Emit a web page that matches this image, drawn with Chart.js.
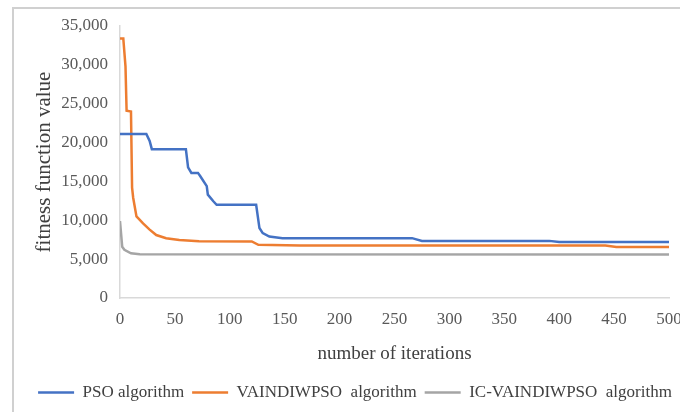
<!DOCTYPE html>
<html>
<head>
<meta charset="utf-8">
<script src="https://cdn.jsdelivr.net/npm/chart.js@4.4.0/dist/chart.umd.min.js"></script>
<style>
  html, body { margin: 0; padding: 0; background: #fff; }
  #wrap { width: 680px; height: 412px; }
</style>
</head>
<body>
<div id="wrap"><canvas id="chart" width="680" height="412"></canvas></div>
<script>
// values (iteration, fitness)
var psoIter = [0, 24, 27, 29, 60, 62, 65, 71, 73, 79, 80, 85, 88, 124, 127, 130, 136, 148, 266, 275, 391, 400, 500];
var psoVal = [21100, 21100, 20200, 19150, 19150, 16800, 16100, 16100, 15700, 14400, 13300, 12450, 12000, 12000, 9000, 8350, 7900, 7700, 7700, 7350, 7350, 7220, 7220];

var vaIter = [0, 3, 5, 6, 10, 11, 12, 15, 21, 27, 33, 42, 54, 72, 120, 126, 164, 442, 452, 500];
var vaVal = [33400, 33400, 29800, 24100, 24000, 14200, 12900, 10500, 9600, 8800, 8100, 7700, 7450, 7300, 7280, 6850, 6740, 6740, 6570, 6570];

var icIter = [0, 2, 4, 10, 18, 500];
var icVal = [9900, 6600, 6200, 5750, 5620, 5600];

var seriesNames = ['PSO algorithm', 'VAINDIWPSO  algorithm', 'IC-VAINDIWPSO  algorithm'];
var seriesColors = ['#4472C4', '#ED7D31', '#A5A5A5'];

function toPoints(xs, ys) {
	return xs.map(function (x, i) { return { x: x, y: ys[i] }; });
}

var frame = {
	id: 'frame',
	beforeDraw: function (chart) {
		var ctx = chart.ctx;
		ctx.save();
		ctx.fillStyle = '#fff';
		ctx.fillRect(0, 0, chart.width, chart.height);
		ctx.strokeStyle = '#d0d0d0';
		ctx.lineWidth = 2;
		ctx.beginPath();
		ctx.moveTo(13, 412);
		ctx.lineTo(13, 8);
		ctx.lineTo(680, 8);
		ctx.stroke();
		ctx.restore();
	}
};

var serif = "'Liberation Serif', 'Times New Roman', serif";

function makeSet(i, xs, ys) {
	return {
		label: seriesNames[i],
		data: toPoints(xs, ys),
		borderColor: seriesColors[i],
		backgroundColor: seriesColors[i],
		borderWidth: 2.5,
		pointRadius: 0,
		tension: 0
	};
}

var config = {
	type: 'line',
	data: {
		datasets: [
			makeSet(0, psoIter, psoVal),
			makeSet(1, vaIter, vaVal),
			makeSet(2, icIter, icVal)
		]
	},
	options: {
		responsive: false,
		animation: false,
		layout: { padding: { left: 30, top: 26, right: 0, bottom: 1 } },
		scales: {
			x: {
				type: 'linear',
				min: 0,
				max: 500,
				grid: { display: false },
				border: { display: true, color: '#d9d9d9', width: 1.5 },
				ticks: { stepSize: 50, color: '#595959', padding: 3, font: { family: serif, size: 17 } },
				title: { display: true, text: 'number of iterations', color: '#404040', padding: { top: 0, bottom: 11 }, font: { family: serif, size: 19 } },
				afterFit: function (scale) { scale.paddingRight = 11; scale.height = 78; }
			},
			y: {
				min: 0,
				max: 35000,
				grid: { display: false },
				border: { display: true, color: '#d9d9d9', width: 1.5 },
				ticks: {
					stepSize: 5000,
					color: '#595959',
					padding: 4,
					font: { family: serif, size: 17 },
					callback: function (v) { return v.toLocaleString('en-US'); }
				},
				title: { display: true, text: 'fitness function value', color: '#404040', padding: { top: 2, bottom: 0 }, font: { family: serif, size: 21 } },
				afterFit: function (scale) { scale.width = 90; }
			}
		},
		plugins: {
			legend: {
				position: 'bottom',
				labels: {
					usePointStyle: true,
					pointStyle: 'line',
					pointStyleWidth: 36,
					padding: 8,
					color: '#404040',
					font: { family: serif, size: 17 }
				}
			},
			tooltip: { enabled: false }
		}
	},
	plugins: [frame]
};

window.onload = function () {
	window.myLine = new Chart(document.getElementById('chart'), config);
};
</script>
</body>
</html>
